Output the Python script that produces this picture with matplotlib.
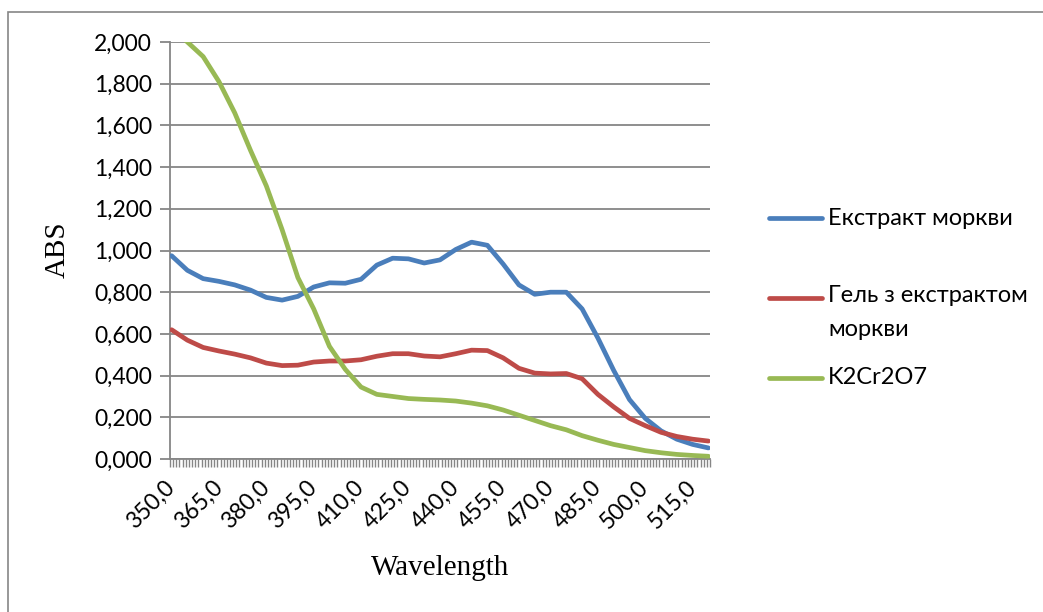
import numpy as np
import matplotlib
matplotlib.use("Agg")
from matplotlib import pyplot as plt
from matplotlib.lines import Line2D
from matplotlib.patches import Rectangle
from matplotlib.ticker import FixedLocator, FuncFormatter

# wavelength (nm), read every 5 nm off the chart
wl = [350, 355, 360, 365, 370, 375, 380, 385, 390, 395, 400, 405, 410, 415, 420, 425, 430,
      435, 440, 445, 450, 455, 460, 465, 470, 475, 480, 485, 490, 495, 500, 505, 510, 515, 520]

# Екстракт моркви
carrot = [0.975, 0.905, 0.865, 0.852, 0.835, 0.810, 0.775, 0.762, 0.780, 0.825, 0.845, 0.843,
          0.862, 0.930, 0.963, 0.960, 0.940, 0.955, 1.005, 1.040, 1.025, 0.935, 0.835, 0.790,
          0.800, 0.800, 0.720, 0.580, 0.425, 0.285, 0.195, 0.135, 0.095, 0.070, 0.053]

# Гель з екстрактом моркви
gel = [0.620, 0.570, 0.535, 0.518, 0.503, 0.485, 0.460, 0.448, 0.450, 0.465, 0.470, 0.470,
       0.476, 0.493, 0.505, 0.505, 0.494, 0.490, 0.505, 0.522, 0.520, 0.485, 0.435, 0.412,
       0.408, 0.410, 0.385, 0.310, 0.250, 0.195, 0.160, 0.128, 0.108, 0.095, 0.086]

# K2Cr2O7
dichromate = [2.070, 2.000, 1.930, 1.810, 1.660, 1.480, 1.310, 1.100, 0.870, 0.720, 0.540, 0.430,
              0.345, 0.310, 0.300, 0.290, 0.286, 0.283, 0.278, 0.268, 0.255, 0.235, 0.210, 0.185,
              0.160, 0.140, 0.112, 0.090, 0.070, 0.055, 0.040, 0.030, 0.022, 0.017, 0.013]

names = ["Екстракт моркви", "Гель з екстрактом\nморкви", "K2Cr2O7"]
colors = ["#4A7EBB", "#BE4B48", "#98B954"]

xticks = list(range(350, 520, 15))
yticks = [0.0, 0.2, 0.4, 0.6, 0.8, 1.0, 1.2, 1.4, 1.6, 1.8, 2.0]

W, H = 1043, 612
sans = ["Lato", "Noto Sans", "DejaVu Sans"]
serif = ["Liberation Serif", "DejaVu Serif"]
plt.rcParams['font.family'] = sans

fig = plt.figure(figsize=(W / 100, H / 100), dpi=100)
ax = fig.add_axes([170 / W, 1 - 459 / H, 540 / W, 417 / H])

grey = "#868686"
for y, c in zip([carrot, gel, dichromate], colors):
    ax.plot(wl, y, color=c, lw=3.4, solid_capstyle="round", solid_joinstyle="round", zorder=3)

ax.set_xlim(349.5, 520.5)
ax.set_ylim(0, 2.0)

ax.set_yticks(yticks)
ax.yaxis.set_major_formatter(FuncFormatter(lambda v, p: f"{v:.3f}".replace(".", ",")))
ax.grid(axis="y", color=grey, lw=1.3)
ax.set_axisbelow(True)

ax.set_xticks(xticks)
ax.set_xticklabels([f"{v},0" for v in xticks], rotation=45, ha="right", va="center",
                   rotation_mode="anchor")
ax.xaxis.set_minor_locator(FixedLocator(np.arange(349.5, 521, 1.0)))
ax.tick_params(axis="x", which="major", length=0, pad=18, labelsize=16.5)
ax.tick_params(axis="x", which="minor", length=6, width=1.0, color=grey, direction="out")
ax.tick_params(axis="y", length=7, width=1.3, color=grey, labelsize=16.5, pad=6)

for s in ["top", "right"]:
    ax.spines[s].set_visible(False)
for s in ["left", "bottom"]:
    ax.spines[s].set_color(grey)
    ax.spines[s].set_linewidth(1.3)

fig.text(440 / W, 1 - 568 / H, "Wavelength", family=serif, fontsize=21,
         ha="center", va="center")
fig.text(58 / W, 1 - 250 / H, "ABS", family=serif, fontsize=21,
         ha="center", va="center", rotation=90)

# legend, drawn by hand so the multi-line entry keeps its marker on the first line
leg_y = [218, 298, 378]
for name, c, yy in zip(names, colors, leg_y):
    fy = 1 - yy / H
    fig.add_artist(Line2D([769 / W, 822 / W], [fy, fy], color=c, lw=3.4,
                          solid_capstyle="round", transform=fig.transFigure))
    if "\n" in name:
        fig.text(828 / W, fy + 13 / H, name, fontsize=17, ha="left", va="top",
                 linespacing=1.75)
    else:
        fig.text(828 / W, fy, name, fontsize=17, ha="left", va="center")

# chart area border
fig.add_artist(Rectangle((8 / W, -0.1), 1.2, 1.1 - 12 / H, transform=fig.transFigure,
                         fill=False, edgecolor=grey, lw=1.2, clip_on=False))

fig.savefig("out.png", dpi=100)
